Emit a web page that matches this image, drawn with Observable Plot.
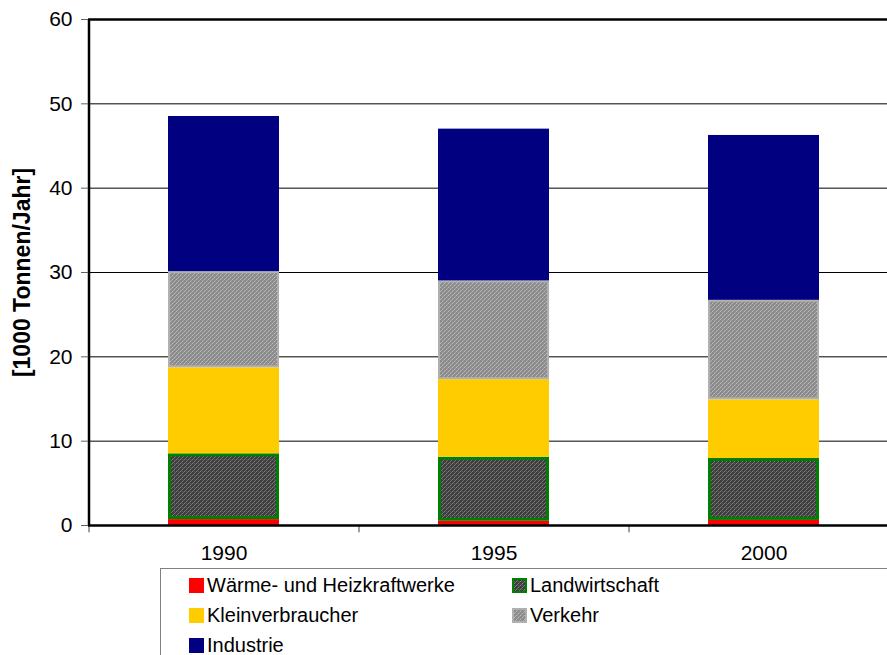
<!DOCTYPE html>
<html>
<head>
<meta charset="utf-8">
<script src="https://cdn.jsdelivr.net/npm/d3@7"></script>
<script src="https://cdn.jsdelivr.net/npm/@observablehq/plot@0.6"></script>
<style>
  html, body { margin: 0; padding: 0; overflow: hidden; background: #fff; width: 887px; height: 655px; }
  #wrap { position: relative; width: 898px; height: 655px; font-family: "Liberation Sans", Arial, sans-serif; }
  #legend { position: absolute; left: 160px; top: 568px; width: 760px; height: 100px; border: 1.5px solid #808080; box-sizing: border-box; background: #fff; }
  .item { position: absolute; display: flex; align-items: center; font-size: 20px; color: #000; white-space: nowrap; }
  .item svg { margin-right: 3px; }
</style>
</head>
<body>
<div id="wrap">
  <svg width="0" height="0" style="position:absolute">
    <defs>
      <pattern id="patLand" width="4" height="4" patternUnits="userSpaceOnUse">
        <rect width="4" height="4" fill="#3e3e3e"/>
        <rect x="0" y="3" width="1" height="1" fill="#808080"/>
        <rect x="1" y="2" width="1" height="1" fill="#6e6e6e"/>
        <rect x="2" y="1" width="1" height="1" fill="#808080"/>
        <rect x="3" y="0" width="1" height="1" fill="#6e6e6e"/>
        <rect x="2" y="3" width="1" height="1" fill="#595959"/>
      </pattern>
      <pattern id="patVerk" width="4" height="4" patternUnits="userSpaceOnUse">
        <rect width="4" height="4" fill="#8c8c8c"/>
        <rect x="0" y="3" width="1" height="1" fill="#bdbdbd"/>
        <rect x="1" y="2" width="1" height="1" fill="#acacac"/>
        <rect x="2" y="1" width="1" height="1" fill="#bdbdbd"/>
        <rect x="3" y="0" width="1" height="1" fill="#acacac"/>
      </pattern>
    </defs>
  </svg>
  <div id="chart"></div>
  <div id="legend"></div>
</div>
<script>
const years = ["1990", "1995", "2000"];
const series = ["Wärme- und Heizkraftwerke", "Landwirtschaft", "Kleinverbraucher", "Verkehr", "Industrie"];
const waerme = [0.7, 0.5, 0.6];
const landwirtschaft = [7.8, 7.6, 7.35];
const kleinverbraucher = [10.2, 9.2, 6.95];
const verkehr = [11.4, 11.7, 11.8];
const industrie = [18.4, 18.0, 19.55];
const yTicks = [0, 10, 20, 30, 40, 50, 60];
const gridTicks = [10, 20, 30, 40, 50];

const values = [waerme, landwirtschaft, kleinverbraucher, verkehr, industrie];
const styles = [
  {fill: "#ff0000", stroke: "#c00000", strokeWidth: 0},
  {fill: "url(#patLand)", stroke: "#008000", strokeWidth: 3},
  {fill: "#ffcc00", stroke: "none", strokeWidth: 0},
  {fill: "url(#patVerk)", stroke: "#b0b0b0", strokeWidth: 2},
  {fill: "#000080", stroke: "none", strokeWidth: 0}
];

const rows = [];
years.forEach((year, i) => {
  let acc = 0;
  series.forEach((s, j) => {
    const v = values[j][i];
    rows.push({year, series: s, y1: acc, y2: acc + v});
    acc += v;
  });
});

const bandStep = (898 - 88) / years.length;

const barMarks = series.map((s, j) => Plot.barY(rows.filter(r => r.series === s), {
  x: "year", y1: "y1", y2: "y2",
  fill: styles[j].fill,
  stroke: styles[j].stroke,
  strokeWidth: styles[j].strokeWidth,
  inset: styles[j].strokeWidth / 2
}));

const plot = Plot.plot({
  width: 898,
  height: 568,
  marginLeft: 88,
  marginRight: 0,
  marginTop: 19,
  marginBottom: 43,
  style: {fontFamily: "'Liberation Sans', Arial, sans-serif", background: "transparent"},
  x: {domain: years, paddingInner: 0.59, paddingOuter: 0.295},
  y: {domain: [0, 60]},
  marks: [
    Plot.ruleY(gridTicks, {stroke: "#000", strokeWidth: 1}),
    ...barMarks,
    Plot.ruleY([60], {stroke: "#000", strokeWidth: 2.5}),
    Plot.ruleX(years, {x: d => d, y1: 0, y2: -0.85, dx: -bandStep / 2, stroke: "#808080", strokeWidth: 1.5}),
    Plot.ruleX([years[0]], {x: d => d, y1: 0, y2: 60, dx: -bandStep / 2, stroke: "#000", strokeWidth: 2.5}),
    Plot.ruleY([0], {stroke: "#000", strokeWidth: 2.5}),
    Plot.axisY({ticks: yTicks, tickSize: 7, tickPadding: 9, fontSize: 21, stroke: "#606060", label: null}),
    Plot.axisX({tickSize: 0, tickPadding: 20, fontSize: 21, label: null}),
    Plot.text(["[1000 Tonnen/Jahr]"], {frameAnchor: "left", textAnchor: "middle", dx: -66, rotate: -90, fontWeight: "bold", fontSize: 23, fill: "#000"})
  ]
});
plot.querySelectorAll("text").forEach(t => t.setAttribute("fill", "#000"));
document.getElementById("chart").appendChild(plot);

// legend
const legendPos = [
  {left: 28, top: 18},
  {left: 351, top: 18},
  {left: 28, top: 48},
  {left: 351, top: 48},
  {left: 28, top: 78}
];
const legend = document.getElementById("legend");
series.forEach((s, j) => {
  const item = document.createElement("div");
  item.className = "item";
  item.style.left = legendPos[j].left + "px";
  item.style.top = (legendPos[j].top - 13) + "px";
  const st = styles[j];
  const sw = st.strokeWidth > 0 && st.stroke !== "none" ? `<rect x="1" y="1" width="13" height="13" fill="${st.fill}" stroke="${st.stroke}" stroke-width="2"/>` : `<rect x="0" y="0" width="15" height="15" fill="${st.fill}"/>`;
  item.innerHTML = `<svg width="15" height="15">${sw}</svg><span>${s}</span>`;
  legend.appendChild(item);
});
</script>
</body>
</html>
